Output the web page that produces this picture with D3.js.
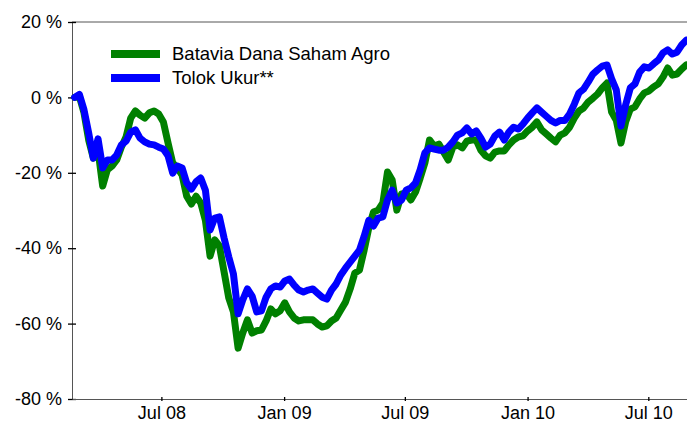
<!DOCTYPE html>
<html>
<head>
<meta charset="utf-8">
<script src="https://cdn.jsdelivr.net/npm/d3@7"></script>
<style>
  html, body { margin: 0; padding: 0; background: #fff; }
  svg { display: block; font-family: Arial, "Liberation Sans", sans-serif; }
</style>
</head>
<body>
<svg id="chart" width="687" height="423"></svg>
<script>
// --- data (weekly, % change) ---

const dates = [
  "2008-02-22","2008-02-29","2008-03-07","2008-03-14","2008-03-21","2008-03-28","2008-04-04","2008-04-11","2008-04-18","2008-04-25",
  "2008-05-02","2008-05-09","2008-05-16","2008-05-23","2008-05-30","2008-06-06","2008-06-13","2008-06-20","2008-06-27","2008-07-04",
  "2008-07-11","2008-07-18","2008-07-25","2008-08-01","2008-08-08","2008-08-15","2008-08-22","2008-08-29","2008-09-05","2008-09-12",
  "2008-09-19","2008-09-26","2008-10-03","2008-10-10","2008-10-17","2008-10-24","2008-10-31","2008-11-07","2008-11-14","2008-11-21",
  "2008-11-28","2008-12-05","2008-12-12","2008-12-19","2008-12-26","2009-01-02","2009-01-09","2009-01-16","2009-01-23","2009-01-30",
  "2009-02-06","2009-02-13","2009-02-20","2009-02-27","2009-03-06","2009-03-13","2009-03-20","2009-03-27","2009-04-03","2009-04-10",
  "2009-04-17","2009-04-24","2009-05-01","2009-05-08","2009-05-15","2009-05-22","2009-05-29","2009-06-05","2009-06-12","2009-06-19",
  "2009-06-26","2009-07-03","2009-07-10","2009-07-17","2009-07-24","2009-07-31","2009-08-07","2009-08-14","2009-08-21","2009-08-28",
  "2009-09-04","2009-09-11","2009-09-18","2009-09-25","2009-10-02","2009-10-09","2009-10-16","2009-10-23","2009-10-30","2009-11-06",
  "2009-11-13","2009-11-20","2009-11-27","2009-12-04","2009-12-11","2009-12-18","2009-12-25","2010-01-01","2010-01-08","2010-01-15",
  "2010-01-22","2010-01-29","2010-02-05","2010-02-12","2010-02-19","2010-02-26","2010-03-05","2010-03-12","2010-03-19","2010-03-26",
  "2010-04-02","2010-04-09","2010-04-16","2010-04-23","2010-04-30","2010-05-07","2010-05-14","2010-05-21","2010-05-28","2010-06-04",
  "2010-06-11","2010-06-18","2010-06-25","2010-07-02","2010-07-09","2010-07-16","2010-07-23","2010-07-30","2010-08-06","2010-08-13",
  "2010-08-20","2010-08-27"
];

const agro = [
  0, 0.3, -4.1, -11.3, -16.1, -14.0, -23.5, -19.2, -18.2, -16.6,
  -13.2, -10.5, -5.5, -3.6, -4.7, -5.5, -4.1, -3.6, -4.4, -6.5,
  -12.1, -17.4, -18.7, -20.6, -26.2, -28.3, -26.2, -28.0, -32.6, -42.1,
  -37.8, -39.4, -46.3, -53.2, -56.9, -66.5, -62.5, -59.0, -62.5, -61.9,
  -61.7, -59.3, -56.1, -57.4, -56.6, -54.5, -56.9, -58.5, -59.3, -59.0,
  -59.0, -59.0, -60.1, -60.9, -60.6, -59.3, -58.5, -56.4, -54.3, -50.8,
  -46.6, -45.8, -40.5, -34.6, -30.4, -29.9, -28.0, -19.8, -21.9, -29.9,
  -25.6, -25.4, -27.2, -25.1, -21.4, -17.4, -11.3, -12.9, -12.4, -14.5,
  -16.6, -13.2, -12.6, -13.4, -11.6, -11.3, -11.3, -14.0, -15.5, -16.1,
  -14.5, -14.2, -14.2, -12.6, -11.3, -10.5, -10.2, -8.9, -7.9, -6.5,
  -8.6, -9.7, -10.8, -11.8, -10.0, -9.4, -7.9, -5.5, -3.6, -2.8,
  -1.2, -0.2, 0.9, 2.5, 3.8, -3.9, -6.1, -12.1, -6.5, -3.1,
  -2.5, -0.4, 1.2, 1.7, 2.8, 3.6, 5.4, 7.8, 5.9, 6.2,
  7.5, 8.6
];

const benchmark = [
  0, 0.8, -3.3, -9.4, -16.1, -11.0, -18.7, -16.6, -16.6, -15.3,
  -12.6, -11.6, -9.2, -8.6, -10.8, -11.8, -12.4, -12.6, -13.2, -13.7,
  -15.5, -20.1, -18.2, -18.7, -22.7, -24.3, -22.4, -21.4, -24.6, -35.2,
  -32.0, -31.7, -37.3, -42.3, -46.8, -57.4, -53.7, -50.8, -52.7, -56.9,
  -56.6, -53.0, -50.8, -50.0, -50.3, -48.7, -48.2, -49.8, -51.1, -51.6,
  -51.1, -50.8, -51.9, -53.0, -53.5, -51.1, -49.5, -47.1, -45.3, -43.7,
  -42.1, -40.5, -36.8, -32.6, -34.1, -32.0, -31.7, -27.2, -24.6, -28.0,
  -27.2, -24.6, -24.0, -22.7, -19.2, -14.7, -13.4, -13.7, -14.0, -14.0,
  -13.2, -11.8, -10.0, -9.4, -8.1, -9.7, -8.9, -10.8, -13.2, -12.4,
  -10.2, -9.2, -11.3, -9.2, -7.9, -8.4, -7.1, -5.5, -4.1, -2.8,
  -3.9, -5.0, -6.1, -6.8, -6.1, -6.1, -4.4, -1.8, 1.2, 2.2,
  4.1, 6.2, 7.3, 8.3, 8.6, 4.9, 2.0, -7.6, -2.0, 2.5,
  3.6, 6.7, 8.1, 7.8, 8.9, 9.9, 11.8, 12.6, 11.5, 12.0,
  13.9, 15.2
];

const seriesNames = ["Batavia Dana Saham Agro", "Tolok Ukur**"];
const seriesColors = ["#008000", "#0000ff"];
const yTicks = [20, 0, -20, -40, -60, -80];
const xTicks = ["2008-07-01", "2009-01-01", "2009-07-01", "2010-01-01", "2010-07-01"];

// --- drawing ---

const parse = d3.timeParse("%Y-%m-%d");
const W = 687, H = 423;
const margin = { top: 22, right: 0, bottom: 24, left: 72 };

const svg = d3.select("#chart");

const x = d3.scaleTime()
    .domain([parse("2008-02-18"), parse("2010-08-28")])
    .range([margin.left, W - margin.right]);
const y = d3.scaleLinear()
    .domain([-80, 20])
    .range([H - margin.bottom, margin.top]);

// frame: top line
svg.append("line")
    .attr("x1", margin.left).attr("x2", W)
    .attr("y1", y(20)).attr("y2", y(20))
    .style("stroke", "#555").style("stroke-width", 1);

// y axis
const yAxis = svg.append("g")
    .attr("transform", `translate(${margin.left},0)`)
    .call(d3.axisLeft(y).tickValues(yTicks).tickSize(4).tickPadding(6)
        .tickFormat(d => `${d} %`));
yAxis.select(".domain").style("stroke", "#555");
yAxis.selectAll(".tick line").attr("x2", 4).attr("x1", -4).style("stroke", "#000").style("stroke-width", 1.3);
yAxis.selectAll(".tick text").style("font-size", "18px").style("fill", "#000")
    .attr("x", -10);

// x axis
const xAxis = svg.append("g")
    .attr("transform", `translate(0,${y(-80)})`)
    .call(d3.axisBottom(x).tickValues(xTicks.map(parse)).tickSizeOuter(0)
        .tickFormat(d3.timeFormat("%b %y")));
xAxis.select(".domain").style("stroke", "#555");
xAxis.selectAll(".tick line").attr("y1", -2).attr("y2", 2).style("stroke", "#000").style("stroke-width", 1.3);
xAxis.selectAll(".tick text").style("font-size", "18px").style("fill", "#000")
    .attr("y", 7);

// lines
const line = d3.line()
    .x((d, i) => x(parse(dates[i])))
    .y(d => y(d))
    .curve(d3.curveLinear);

[agro, benchmark].forEach((vals, k) => {
    svg.append("path")
        .datum(vals)
        .attr("d", line)
        .style("fill", "none")
        .style("stroke", seriesColors[k])
        .style("stroke-width", 7)
        .style("stroke-linejoin", "round")
        .style("stroke-linecap", "round");
});

// legend
const legend = svg.append("g");
seriesNames.forEach((name, k) => {
    const ly = 54 + k * 24;
    legend.append("line")
        .attr("x1", 111).attr("x2", 160)
        .attr("y1", ly).attr("y2", ly)
        .style("stroke", seriesColors[k]).style("stroke-width", 8);
    legend.append("text")
        .attr("x", 172).attr("y", ly)
        .attr("dy", "0.35em")
        .style("font-size", "18.5px")
        .text(name);
});
</script>
</body>
</html>
